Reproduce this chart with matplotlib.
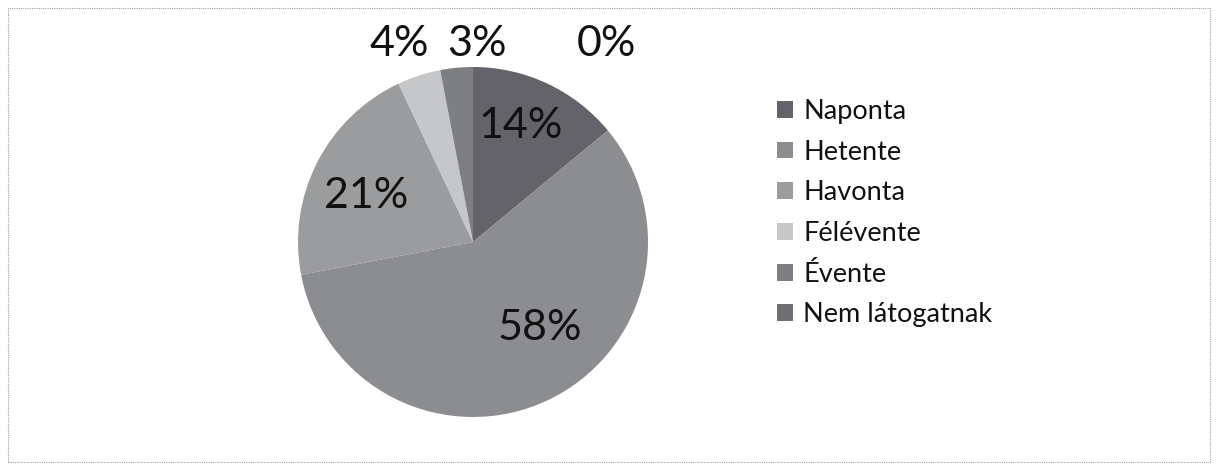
import matplotlib
matplotlib.use("Agg")
import matplotlib.pyplot as plt
from matplotlib.patches import Rectangle

categories = ["Naponta", "Hetente", "Havonta", "Félévente", "Évente", "Nem látogatnak"]
values = [14, 58, 21, 4, 3, 0]
pct_labels = ["14%", "58%", "21%", "4%", "3%", "0%"]

colors = ["#646369", "#8c8d90", "#9b9c9e", "#c6c7c9", "#7e7f82", "#6f7073"]
label_pos = [(0.27, 0.66), (0.38, -0.49), (-0.61, 0.26), (-0.42, 1.13), (0.02, 1.13), (0.76, 1.13)]

plt.rcParams['font.family'] = ['Lato', 'DejaVu Sans']

W, H = 1218, 470
fig = plt.figure(figsize=(W / 100, H / 100), dpi=100)
fig.patch.set_facecolor("white")

# chart frame
fig.patches.append(Rectangle((8 / W, 8 / H), (1210 - 8) / W, (462 - 8) / H,
                             transform=fig.transFigure, fill=False,
                             edgecolor="#a0a0a0", linewidth=0.8, linestyle=(0, (1, 1))))

cx, cy, r = 473, 242, 175
ax = fig.add_axes([(cx - r) / W, (H - cy - r) / H, 2 * r / W, 2 * r / H])
wedges, _ = ax.pie(values, colors=colors, startangle=90, counterclock=False,
                   radius=1.0, wedgeprops=dict(linewidth=0))
ax.set_xlim(-1, 1)
ax.set_ylim(-1, 1)
ax.set_aspect("equal")
ax.axis("off")

for txt, (x, y) in zip(pct_labels, label_pos):
    ax.text(x, y, txt, ha="center", va="center", fontsize=31, color="#111111", clip_on=False)

leg = fig.legend(wedges, categories, loc="upper left",
                 bbox_to_anchor=(766 / W, 1 - 88 / H), frameon=False,
                 fontsize=19.5, handlelength=0.58, handleheight=0.58,
                 handletextpad=0.4, labelspacing=0.58, borderaxespad=0)
for t in leg.get_texts():
    t.set_color("#111111")

fig.savefig("out.png", dpi=100, facecolor="white")
